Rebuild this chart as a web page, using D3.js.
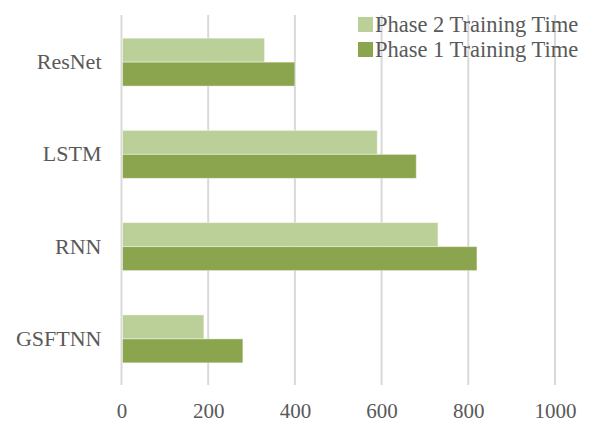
<!DOCTYPE html>
<html lang="en">
<head>
    <meta charset="UTF-8">
    <title>Training Time Comparison</title>
    <style>
      body { margin: 0; background: #fff; overflow: hidden; }
      text { font-family: "Liberation Serif", "Times New Roman", serif; fill: #595959; }
    </style>
</head>
<body>
  <div id="graph-container"></div>
  <script src="https://d3js.org/d3.v7.min.js"></script>
  <script>
    // data
    const models = ["ResNet", "LSTM", "RNN", "GSFTNN"];
    const phase2Time = [330, 590, 730, 190];
    const phase1Time = [400, 680, 820, 280];
    const seriesNames = ["Phase 2 Training Time", "Phase 1 Training Time"];
    const seriesColors = ["#bbcf98", "#8aa54d"];
    const xTicks = [0, 200, 400, 600, 800, 1000];

    const width = 590, height = 422;
    const margin = { top: 16, right: 35, bottom: 37, left: 121.5 };

    const svg = d3.select("#graph-container")
      .append("svg")
        .attr("width", width)
        .attr("height", height)
        .style("display", "block");

    const x = d3.scaleLinear()
      .domain([0, 1000])
      .range([margin.left, width - margin.right]);

    const y = d3.scaleBand()
      .domain(models)
      .range([margin.top, height - margin.bottom])
      .paddingInner(0.48)
      .paddingOuter(0.24);

    // sub band: phase 2 on top, phase 1 under it
    const ySub = d3.scaleBand()
      .domain([0, 1])
      .range([0, y.bandwidth()]);

    // vertical gridlines
    svg.append("g")
      .selectAll("line")
      .data(xTicks)
      .enter()
      .append("line")
        .attr("x1", d => x(d))
        .attr("x2", d => x(d))
        .attr("y1", margin.top - 1)
        .attr("y2", height - margin.bottom)
        .attr("stroke", "#d9d9d9")
        .attr("stroke-width", 2);

    const rows = models.map((m, i) => ({ model: m, values: [phase2Time[i], phase1Time[i]] }));

    const groups = svg.append("g")
      .selectAll("g")
      .data(rows)
      .enter()
      .append("g")
        .attr("transform", d => `translate(0, ${y(d.model)})`);

    groups.selectAll("rect")
      .data(d => d.values.map((v, k) => ({ k: k, v: v })))
      .enter()
      .append("rect")
        .attr("x", x(0) + 1)
        .attr("y", d => ySub(d.k))
        .attr("width", d => x(d.v) - x(0) - 1)
        .attr("height", ySub.bandwidth())
        .attr("fill", d => seriesColors[d.k])
        .attr("stroke", "rgba(255,255,255,0.45)")
        .attr("stroke-width", 1);

    // x axis labels
    const xAxis = svg.append("g")
      .attr("transform", `translate(0, ${height - margin.bottom})`)
      .call(d3.axisBottom(x).tickValues(xTicks).tickSize(0).tickFormat(d3.format("d")));
    xAxis.select(".domain").remove();
    xAxis.selectAll("text")
      .attr("y", 33)
      .attr("dy", 0)
      .style("font-size", "21px")
      .style("font-family", "'Liberation Serif', serif")
      .attr("fill", "#595959");

    // category labels
    const yAxis = svg.append("g")
      .attr("transform", `translate(${margin.left}, 0)`)
      .call(d3.axisLeft(y).tickSize(0).tickPadding(20));
    yAxis.select(".domain").remove();
    yAxis.selectAll("text")
      .style("font-size", "22px")
      .style("font-family", "'Liberation Serif', serif")
      .attr("fill", "#595959");

    // legend
    const legend = svg.append("g")
      .selectAll("g")
      .data(seriesNames)
      .enter()
      .append("g")
        .attr("transform", (d, i) => `translate(358, ${17 + i * 25})`);

    legend.append("rect")
      .attr("width", 15)
      .attr("height", 15)
      .attr("fill", (d, i) => seriesColors[i]);

    legend.append("text")
      .attr("x", 17)
      .attr("y", 7.5)
      .attr("dy", "0.35em")
      .style("font-size", "22.5px")
      .text(d => d);
  </script>
</body>
</html>
